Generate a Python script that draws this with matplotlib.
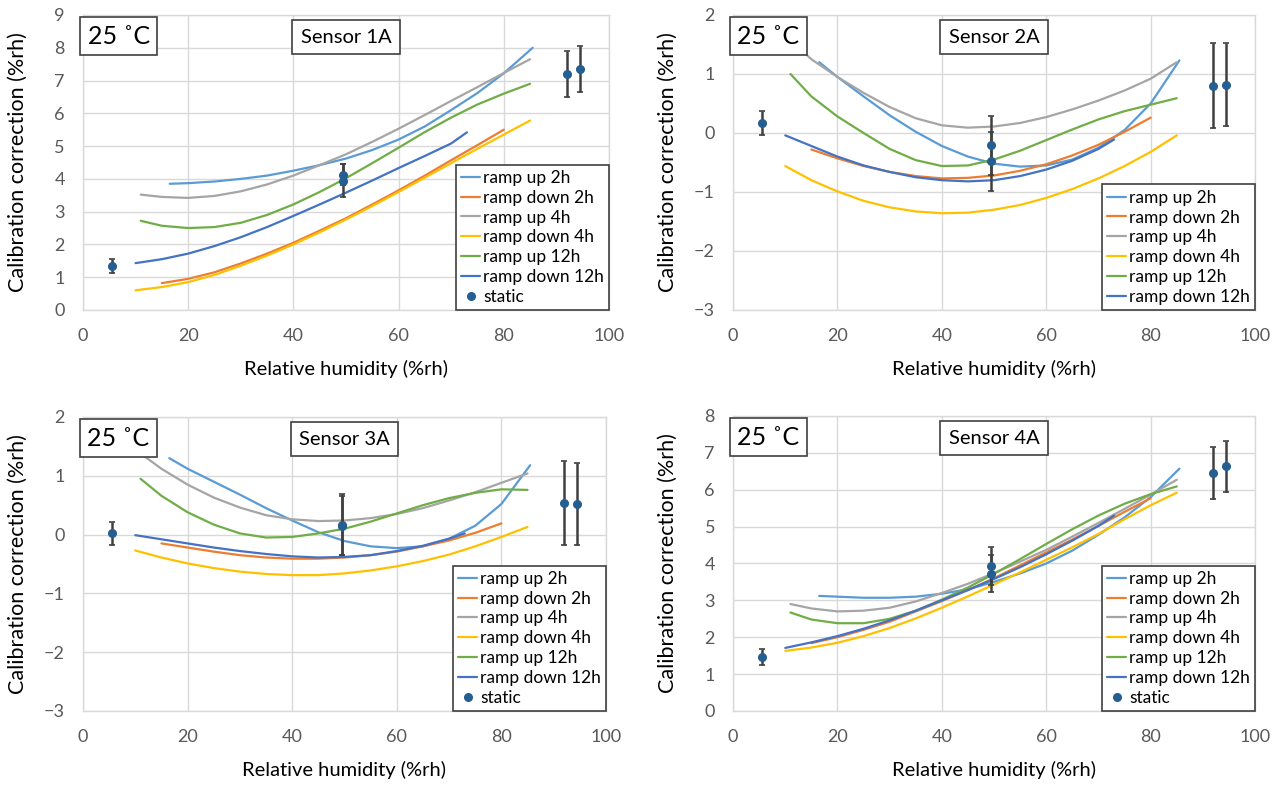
import matplotlib
matplotlib.use('Agg')
import matplotlib.pyplot as plt

plt.rcParams['font.family'] = ['Lato', 'DejaVu Sans']

# shared x grids (%rh) for the fitted ramp curves
x_up2 = [16.5, 20, 25, 30, 35, 40, 45, 50, 55, 60, 65, 70, 75, 80, 85.5]
x_up = [11, 15, 20, 25, 30, 35, 40, 45, 50, 55, 60, 65, 70, 75, 80, 85]
x_dn2 = [15, 20, 25, 30, 35, 40, 45, 50, 55, 60, 65, 70, 75, 80]
x_dn4 = [10, 15, 20, 25, 30, 35, 40, 45, 50, 55, 60, 65, 70, 75, 80, 85]
x_dn12 = [10, 15, 20, 25, 30, 35, 40, 45, 50, 55, 60, 65, 70, 73]

# Sensor 1A
s1_up2 = [3.85, 3.87, 3.92, 4.0, 4.1, 4.25, 4.42, 4.62, 4.88, 5.2, 5.6, 6.1, 6.62, 7.22, 8.0]
s1_dn2 = [0.82, 0.95, 1.15, 1.42, 1.72, 2.05, 2.42, 2.8, 3.22, 3.65, 4.1, 4.57, 5.03, 5.5]
s1_up4 = [3.52, 3.45, 3.42, 3.48, 3.62, 3.83, 4.1, 4.42, 4.75, 5.13, 5.53, 5.95, 6.38, 6.8, 7.23, 7.65]
s1_dn4 = [0.6, 0.7, 0.85, 1.07, 1.35, 1.66, 2.0, 2.37, 2.76, 3.17, 3.6, 4.04, 4.48, 4.92, 5.35, 5.78]
s1_up12 = [2.72, 2.57, 2.5, 2.53, 2.66, 2.9, 3.22, 3.6, 4.02, 4.48, 4.95, 5.43, 5.87, 6.27, 6.6, 6.9]
s1_dn12 = [1.43, 1.55, 1.72, 1.95, 2.22, 2.53, 2.87, 3.22, 3.58, 3.95, 4.33, 4.7, 5.08, 5.42]

# Sensor 2A
s2_up2 = [1.2, 0.95, 0.62, 0.3, 0.02, -0.22, -0.4, -0.52, -0.57, -0.55, -0.45, -0.25, 0.05, 0.5, 1.23]
s2_dn2 = [-0.28, -0.43, -0.56, -0.66, -0.73, -0.77, -0.76, -0.72, -0.64, -0.53, -0.38, -0.2, 0.02, 0.26]
s2_up4 = [1.58, 1.25, 0.95, 0.68, 0.44, 0.25, 0.13, 0.09, 0.11, 0.17, 0.27, 0.4, 0.55, 0.72, 0.92, 1.2]
s2_dn4 = [-0.56, -0.8, -0.99, -1.15, -1.26, -1.33, -1.36, -1.35, -1.3, -1.22, -1.1, -0.95, -0.77, -0.56, -0.32, -0.04]
s2_up12 = [1.0, 0.62, 0.28, 0.0, -0.27, -0.46, -0.56, -0.55, -0.45, -0.3, -0.12, 0.06, 0.23, 0.37, 0.48, 0.59]
s2_dn12 = [-0.04, -0.22, -0.4, -0.55, -0.66, -0.75, -0.8, -0.82, -0.8, -0.73, -0.62, -0.47, -0.27, -0.11]

# Sensor 3A
s3_up2 = [1.3, 1.12, 0.9, 0.68, 0.45, 0.24, 0.04, -0.11, -0.2, -0.23, -0.2, -0.07, 0.15, 0.52, 1.18]
s3_dn2 = [-0.15, -0.22, -0.29, -0.35, -0.39, -0.41, -0.41, -0.39, -0.35, -0.29, -0.2, -0.1, 0.03, 0.19]
s3_up4 = [1.38, 1.12, 0.85, 0.63, 0.46, 0.33, 0.26, 0.23, 0.24, 0.28, 0.35, 0.45, 0.58, 0.72, 0.88, 1.04]
s3_dn4 = [-0.27, -0.39, -0.49, -0.57, -0.63, -0.67, -0.69, -0.69, -0.66, -0.61, -0.54, -0.45, -0.34, -0.2, -0.04, 0.13]
s3_up12 = [0.95, 0.66, 0.38, 0.17, 0.02, -0.05, -0.04, 0.02, 0.1, 0.22, 0.36, 0.5, 0.62, 0.71, 0.77, 0.76]
s3_dn12 = [-0.01, -0.08, -0.15, -0.22, -0.28, -0.33, -0.37, -0.39, -0.38, -0.35, -0.28, -0.19, -0.07, 0.02]

# Sensor 4A
s4_up2 = [3.12, 3.1, 3.07, 3.07, 3.1, 3.18, 3.3, 3.5, 3.73, 4.0, 4.35, 4.78, 5.25, 5.8, 6.57]
s4_dn2 = [1.84, 2.0, 2.2, 2.42, 2.7, 2.98, 3.28, 3.6, 3.95, 4.3, 4.65, 5.02, 5.4, 5.77]
s4_up4 = [2.9, 2.78, 2.7, 2.72, 2.8, 2.97, 3.2, 3.45, 3.74, 4.05, 4.37, 4.73, 5.1, 5.48, 5.87, 6.27]
s4_dn4 = [1.63, 1.72, 1.85, 2.03, 2.25, 2.51, 2.8, 3.11, 3.43, 3.76, 4.1, 4.44, 4.8, 5.2, 5.58, 5.92]
s4_up12 = [2.67, 2.48, 2.38, 2.38, 2.5, 2.72, 3.02, 3.35, 3.72, 4.12, 4.53, 4.93, 5.3, 5.62, 5.88, 6.09]
s4_dn12 = [1.71, 1.86, 2.03, 2.23, 2.46, 2.72, 3.0, 3.28, 3.58, 3.9, 4.25, 4.62, 5.02, 5.3]

# static calibration points with uncertainty
static_x = [5.5, 49.5, 49.5, 92, 94.5]
s1_static = [1.35, 4.13, 3.95, 7.2, 7.35]
s1_err = [0.21, 0.33, 0.5, 0.71, 0.7]
s2_static = [0.17, -0.21, -0.48, 0.8, 0.82]
s2_err = [0.2, 0.5, 0.5, 0.72, 0.7]
s3_static = [0.02, 0.17, 0.15, 0.54, 0.52]
s3_err = [0.2, 0.52, 0.5, 0.71, 0.7]
s4_static = [1.47, 3.93, 3.72, 6.45, 6.63]
s4_err = [0.21, 0.52, 0.5, 0.7, 0.7]

sensors = ['Sensor 1A', 'Sensor 2A', 'Sensor 3A', 'Sensor 4A']
ylims = [(0, 9), (-3, 2), (-3, 2), (0, 8)]
curves = [
    [s1_up2, s1_dn2, s1_up4, s1_dn4, s1_up12, s1_dn12],
    [s2_up2, s2_dn2, s2_up4, s2_dn4, s2_up12, s2_dn12],
    [s3_up2, s3_dn2, s3_up4, s3_dn4, s3_up12, s3_dn12],
    [s4_up2, s4_dn2, s4_up4, s4_dn4, s4_up12, s4_dn12],
]
statics = [(s1_static, s1_err), (s2_static, s2_err), (s3_static, s3_err), (s4_static, s4_err)]
show_static_label = [True, False, True, True]

labels = ['ramp up 2h', 'ramp down 2h', 'ramp up 4h', 'ramp down 4h', 'ramp up 12h', 'ramp down 12h']
xs = [x_up2, x_dn2, x_up, x_dn4, x_up, x_dn12]
colors = ['#5B9BD5', '#ED7D31', '#A5A5A5', '#FFC000', '#70AD47', '#4472C4']

# axes placement in figure fractions
positions = [
    [0.0647, 0.6051, 0.4103, 0.3758],
    [0.5718, 0.6051, 0.4072, 0.3758],
    [0.0647, 0.0943, 0.4080, 0.3745],
    [0.5718, 0.0943, 0.4072, 0.3758],
]

fig = plt.figure(figsize=(12.82, 7.85), dpi=100, facecolor='white')

for i in range(4):
    ax = fig.add_axes(positions[i])
    for x, y, lab, c in zip(xs, curves[i], labels, colors):
        ax.plot(x, y, color=c, lw=1.6, label=lab, solid_capstyle='round')

    vals, errs = statics[i]
    ax.errorbar(static_x, vals, yerr=errs, fmt='none', ecolor='#404040',
                elinewidth=1.8, capsize=2.5, capthick=1.2, zorder=5)
    ax.plot(static_x, vals, 'o', color='#255E91', ms=5.5, zorder=6,
            label='static' if show_static_label[i] else '_nolegend_')

    ax.set_xlim(0, 100)
    ax.set_ylim(*ylims[i])
    ax.set_xticks(range(0, 101, 20))
    ax.set_yticks(range(ylims[i][0], ylims[i][1] + 1))
    ax.grid(True, color='#D9D9D9', lw=1)
    ax.set_axisbelow(True)
    for sp in ax.spines.values():
        sp.set_color('#D9D9D9')
        sp.set_linewidth(1)
    ax.tick_params(length=0, labelsize=13, labelcolor='#595959')
    ax.tick_params(axis='x', pad=13)
    ax.tick_params(axis='y', pad=13)

    ax.set_xlabel('Relative humidity (%rh)', fontsize=14.5, color='#000000', va='center')
    ax.set_ylabel('Calibration correction (%rh)', fontsize=15.5, color='#000000', va='center')
    ax.xaxis.set_label_coords(0.5, -0.2)
    ax.yaxis.set_label_coords(-0.124, 0.5)

    leg = ax.legend(loc='lower right', bbox_to_anchor=(1, 0), borderaxespad=0,
                    fontsize=12.5, labelspacing=0.22, handlelength=1.1,
                    handletextpad=0.15, borderpad=0.3, fancybox=False,
                    framealpha=1, edgecolor='#404040')
    leg.get_frame().set_linewidth(1.2)
    leg.set_zorder(10)

    ax.text(0.068, 0.928, '25 ˚C', transform=ax.transAxes, fontsize=18,
            ha='center', va='center', zorder=12,
            bbox=dict(boxstyle='square,pad=0.3', fc='white', ec='#404040', lw=1.2))
    ax.text(0.5, 0.925, sensors[i], transform=ax.transAxes, fontsize=14.5,
            ha='center', va='center', zorder=12,
            bbox=dict(boxstyle='square,pad=0.42', fc='white', ec='#404040', lw=1.2))

fig.savefig('out.png', dpi=100, facecolor='white')
